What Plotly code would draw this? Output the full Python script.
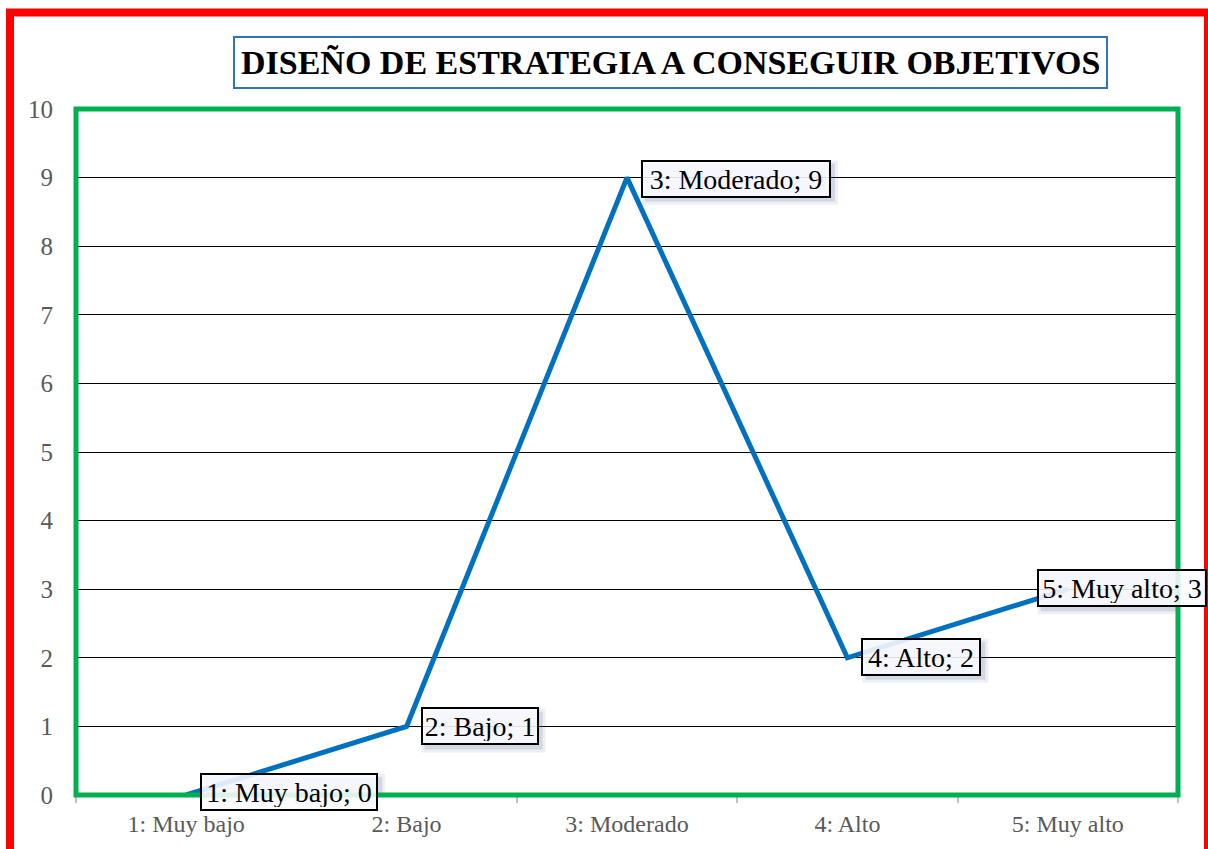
import plotly.graph_objects as go

# Chart data
categories = ["1: Muy bajo", "2: Bajo", "3: Moderado", "4: Alto", "5: Muy alto"]
values = [0, 1, 9, 2, 3]
y_ticks = [0, 1, 2, 3, 4, 5, 6, 7, 8, 9, 10]
title_text = "DISEÑO DE ESTRATEGIA A CONSEGUIR OBJETIVOS"

W, H = 1208, 849
L, R, T, B = 76, 30, 109, 54
PW, PH = W - L - R, H - T - B


def px_x(px):
    return (px - L) / PW


def px_y(py):
    return (H - B - py) / PH


FONT = "Liberation Serif"
label_shift = [14, 14, 14, 14, -31]
label_width = [178, 118, 190, 120, 170]
label_dy = [3, 0, -1, 1, 1]
BOX_H = 38
PAD, BW = 2, 2

fig = go.Figure()
fig.add_trace(go.Scatter(
    x=categories, y=values, mode="lines",
    line=dict(color="#0070C0", width=5),
    cliponaxis=False, hoverinfo="skip",
))

shapes = []
# soft shadows behind data labels (two layers for a blurred edge)
for i, (c, v) in enumerate(zip(categories, values)):
    for grow, alpha in ((3, 0.10), (0, 0.16)):
        cy = label_dy[i] - 4
        shapes.append(dict(
            type="rect", xref="x", yref="y", xsizemode="pixel", ysizemode="pixel",
            xanchor=i, yanchor=v,
            x0=label_shift[i] + 4 - grow, x1=label_shift[i] + label_width[i] + 4 + grow,
            y0=cy - BOX_H / 2 - grow, y1=cy + BOX_H / 2 + grow, line=dict(width=0),
            fillcolor=f"rgba(70,95,140,{alpha})", layer="above",
        ))
# green plot-area frame
shapes.append(dict(type="rect", xref="paper", yref="paper", x0=0, x1=1, y0=0, y1=1,
                   line=dict(color="#00B050", width=5), layer="above"))
# red outer frame
shapes.append(dict(type="rect", xref="paper", yref="paper",
                   x0=px_x(10), x1=px_x(1208), y0=px_y(870), y1=px_y(12.5),
                   line=dict(color="#FF0000", width=8), layer="above"))

annotations = []
for i, (c, v) in enumerate(zip(categories, values)):
    annotations.append(dict(
        x=i, y=v, xref="x", yref="y", text=f"{c}; {v}", showarrow=False,
        xanchor="left", yanchor="middle", xshift=label_shift[i], yshift=label_dy[i],
        width=label_width[i] - 2 * (PAD + BW), height=BOX_H - 2 * (PAD + BW),
        align="center", valign="middle",
        font=dict(family=FONT, size=28, color="#000000"),
        bgcolor="rgba(250,252,255,0.88)", bordercolor="#000000",
        borderwidth=BW, borderpad=PAD,
    ))
annotations.append(dict(
    x=px_x(670.5), y=px_y(63), xref="paper", yref="paper", text=f"<b>{title_text}</b>",
    showarrow=False, xanchor="center", yanchor="middle",
    font=dict(family=FONT, size=34, color="#000000"),
    bgcolor="#FFFFFF", bordercolor="#2E75B6", borderwidth=2, borderpad=6,
))

fig.update_layout(
    width=W, height=H,
    margin=dict(l=L, r=R, t=T, b=B, pad=0),
    paper_bgcolor="#FFFFFF", plot_bgcolor="#FFFFFF",
    showlegend=False,
    shapes=shapes, annotations=annotations,
    xaxis=dict(
        type="category", range=[-0.5, 4.5], showgrid=False, zeroline=False,
        showline=True, linecolor="#BFBFBF", linewidth=2,
        ticks="outside", tickson="boundaries", ticklen=6, tickcolor="#BFBFBF", tickwidth=2,
        ticklabelstandoff=6,
        tickfont=dict(family=FONT, size=24, color="#595959"),
    ),
    yaxis=dict(
        range=[0, 10], tickvals=y_ticks, showgrid=True, gridcolor="#000000", gridwidth=1.3,
        zeroline=False, showline=False, ticks="", ticklabelstandoff=22,
        tickfont=dict(family=FONT, size=25, color="#595959"),
    ),
)

fig.write_html("out.html")
